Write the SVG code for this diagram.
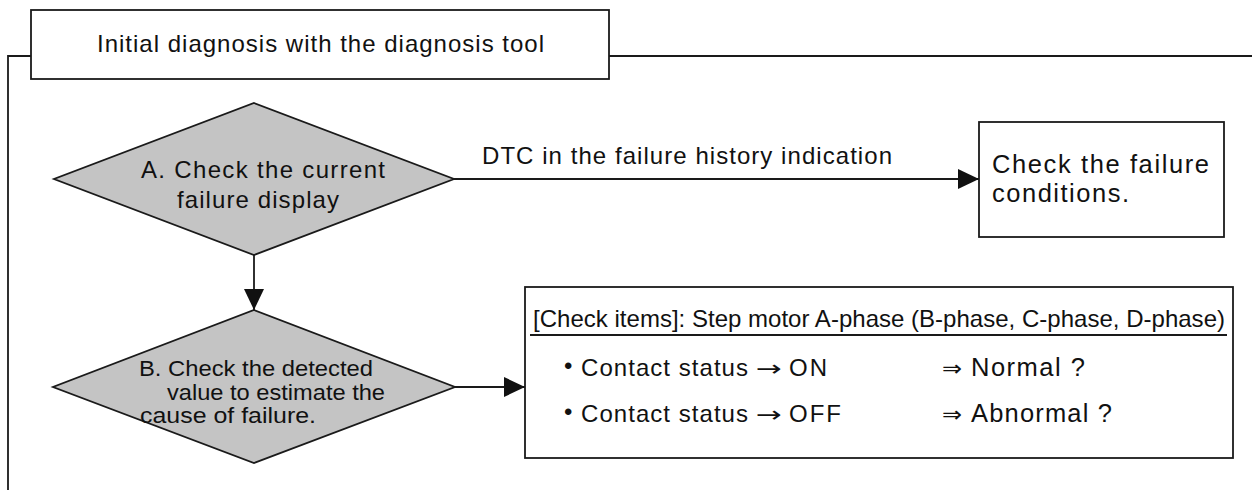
<svg xmlns="http://www.w3.org/2000/svg" width="1252" height="490" viewBox="0 0 1252 490">
<style>
  .ln { fill: none; stroke: #1a1a1a; stroke-width: 1.8; }
  .box { fill: #ffffff; stroke: #1a1a1a; stroke-width: 1.8; }
  .dia { fill: #c4c4c4; stroke: #1a1a1a; stroke-width: 1.8; }
  .t { font-family: "Liberation Sans", Arial, "DejaVu Sans", sans-serif; font-size: 24px; fill: #111111; }
  .tl { font-family: "Liberation Sans", Arial, "DejaVu Sans", sans-serif; font-size: 25.5px; fill: #111111; }
  .tb { font-family: "Liberation Sans", Arial, "DejaVu Sans", sans-serif; font-size: 22px; fill: #111111; }
  .sym { font-family: "DejaVu Sans", "Liberation Sans", sans-serif; font-size: 22px; fill: #111111; }
</style>
<defs>
  <marker id="arr" markerUnits="userSpaceOnUse" markerWidth="21" markerHeight="20" refX="21" refY="10" orient="auto">
    <path d="M0,0 L21,10 L0,20 Z" fill="#111111"/>
  </marker>
</defs>
<rect width="1252" height="490" fill="#ffffff"/>

<g id="frame">
  <polyline class="ln" points="8,490 8,56 31,56"/>
  <line class="ln" x1="609" y1="56" x2="1252" y2="56"/>
</g>

<g id="title">
  <rect class="box" x="31" y="10" width="578" height="69"/>
  <text class="t" x="97" y="52" textLength="447" lengthAdjust="spacing">Initial diagnosis with the diagnosis tool</text>
</g>

<g id="connectors">
  <line class="ln" x1="454" y1="179" x2="979" y2="179" marker-end="url(#arr)"/>
  <line class="ln" x1="254" y1="255" x2="254" y2="310" marker-end="url(#arr)"/>
  <line class="ln" x1="455" y1="387" x2="525" y2="387" marker-end="url(#arr)"/>
  <text class="t" x="482" y="164" textLength="410" lengthAdjust="spacing">DTC in the failure history indication</text>
</g>

<g id="nodeA">
  <polygon class="dia" points="254,103 454,179 254,255 54,179"/>
  <text class="t" x="141" y="178" textLength="244" lengthAdjust="spacing">A. Check the current</text>
  <text class="t" x="177" y="208" textLength="162" lengthAdjust="spacing">failure display</text>
</g>

<g id="nodeFailure">
  <rect class="box" x="979" y="122" width="245" height="115"/>
  <text class="tl" x="992" y="173" textLength="217" lengthAdjust="spacing">Check the failure</text>
  <text class="tl" x="992" y="202" textLength="137" lengthAdjust="spacing">conditions.</text>
</g>

<g id="nodeB">
  <polygon class="dia" points="254,310 455,387 254,463 53,387"/>
  <text class="tb" x="139" y="376" textLength="234" lengthAdjust="spacingAndGlyphs">B. Check the detected</text>
  <text class="tb" x="167" y="399.5" textLength="218" lengthAdjust="spacingAndGlyphs">value to estimate the</text>
  <text class="tb" x="140" y="423" textLength="176" lengthAdjust="spacingAndGlyphs">cause of failure.</text>
</g>

<g id="nodeCheck">
  <rect class="box" x="525" y="287" width="708" height="171"/>
  <text class="t" x="533" y="327" textLength="692" lengthAdjust="spacing">[Check items]: Step motor A-phase (B-phase, C-phase, D-phase)</text>
  <line class="ln" x1="530" y1="335" x2="1227" y2="335"/>
  <text class="t" x="564" y="374" font-size="17">•</text>
  <text class="t" x="581" y="376" textLength="167" lengthAdjust="spacing">Contact status</text>
  <text class="sym" x="756" y="376" textLength="26" lengthAdjust="spacingAndGlyphs">→</text>
  <text class="t" x="789" y="376" textLength="38" lengthAdjust="spacing">ON</text>
  <text class="sym" x="942" y="376" textLength="20" lengthAdjust="spacingAndGlyphs">⇒</text>
  <text class="tl" x="971" y="376" textLength="114" lengthAdjust="spacing">Normal ?</text>
  <text class="t" x="564" y="420" font-size="17">•</text>
  <text class="t" x="581" y="422" textLength="167" lengthAdjust="spacing">Contact status</text>
  <text class="sym" x="756" y="422" textLength="26" lengthAdjust="spacingAndGlyphs">→</text>
  <text class="t" x="789" y="422" textLength="52" lengthAdjust="spacing">OFF</text>
  <text class="sym" x="942" y="422" textLength="20" lengthAdjust="spacingAndGlyphs">⇒</text>
  <text class="tl" x="971" y="422" textLength="141" lengthAdjust="spacing">Abnormal ?</text>
</g>
</svg>
